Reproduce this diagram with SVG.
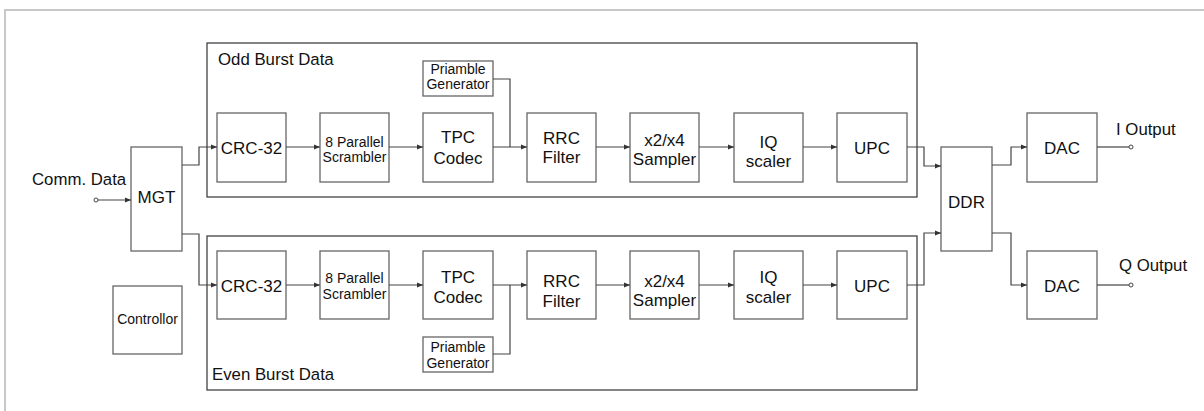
<svg xmlns="http://www.w3.org/2000/svg" width="1204" height="411" viewBox="0 0 1204 411">
<style>
text{font-family:"Liberation Sans",Arial,sans-serif;fill:#111;}
.blk{fill:#fff;stroke:#666;stroke-width:1.3;}
.grp{fill:none;stroke:#333;stroke-width:1.2;}
.big{font-size:17px;text-anchor:middle;}
.sm{font-size:14px;text-anchor:middle;}
.xs{font-size:14px;text-anchor:middle;}
.lbl{font-size:16.8px;}
.ln{fill:none;stroke:#444;stroke-width:1.2;}
.ar{fill:none;stroke:#444;stroke-width:1.2;marker-end:url(#ah);}
.pin{fill:#fff;stroke:#444;stroke-width:1;}
</style>
<defs>
<marker id="ah" viewBox="0 0 6 6" refX="6" refY="3" markerWidth="6" markerHeight="6" markerUnits="userSpaceOnUse" orient="auto">
<path d="M0,0.5 L6,3 L0,5.5 Z" fill="#333"/>
</marker>
</defs>
<rect width="1204" height="411" fill="#fff"/>
<path d="M5,411 V10 H1204" fill="none" stroke="#c8c8c8" stroke-width="2"/>

<g id="odd-group"><rect class="grp" x="207" y="43" width="710" height="154"/><text class="lbl" x="218" y="65">Odd Burst Data</text></g>
<g id="even-group"><rect class="grp" x="207" y="236" width="710" height="154"/><text class="lbl" x="212" y="380">Even Burst Data</text></g>

<g id="comm-label"><text class="lbl" x="32" y="185">Comm. Data</text></g>
<g id="mgt"><rect class="blk" x="131" y="147" width="51" height="104"/><text class="big" x="156.5" y="203">MGT</text></g>
<g id="controller"><rect class="blk" x="113" y="286" width="69" height="68"/><text class="sm" x="147.5" y="324">Controllor</text></g>

<g id="odd-crc"><rect class="blk" x="217" y="113" width="69" height="69"/><text class="big" x="251.5" y="154">CRC-32</text></g>
<g id="odd-scr"><rect class="blk" x="320" y="113" width="69" height="69"/><text class="sm" x="354.5" y="147">8 Parallel</text><text class="sm" x="354.5" y="162">Scrambler</text></g>
<g id="odd-tpc"><rect class="blk" x="423" y="113" width="70" height="69"/><text class="big" x="458" y="143">TPC</text><text class="big" x="458" y="164">Codec</text></g>
<g id="odd-pre"><rect class="blk" x="423" y="61" width="70" height="35"/><text class="xs" x="458" y="74">Priamble</text><text class="xs" x="458" y="89">Generator</text></g>
<g id="odd-rrc"><rect class="blk" x="527" y="113" width="69" height="69"/><text class="big" x="561.5" y="144">RRC</text><text class="big" x="561.5" y="163">Filter</text></g>
<g id="odd-smp"><rect class="blk" x="630" y="113" width="69" height="69"/><text class="big" x="664.5" y="146">x2/x4</text><text class="big" x="664.5" y="165">Sampler</text></g>
<g id="odd-iq"><rect class="blk" x="734" y="113" width="69" height="69"/><text class="big" x="768.5" y="148">IQ</text><text class="big" x="768.5" y="167">scaler</text></g>
<g id="odd-upc"><rect class="blk" x="837" y="113" width="70" height="69"/><text class="big" x="872" y="154">UPC</text></g>

<g id="even-crc"><rect class="blk" x="217" y="251" width="69" height="68"/><text class="big" x="251.5" y="292">CRC-32</text></g>
<g id="even-scr"><rect class="blk" x="320" y="251" width="69" height="68"/><text class="sm" x="354.5" y="283">8 Parallel</text><text class="sm" x="354.5" y="299">Scrambler</text></g>
<g id="even-tpc"><rect class="blk" x="423" y="251" width="70" height="68"/><text class="big" x="458" y="283">TPC</text><text class="big" x="458" y="303">Codec</text></g>
<g id="even-pre"><rect class="blk" x="423" y="337" width="70" height="35"/><text class="xs" x="458" y="352">Priamble</text><text class="xs" x="458" y="368">Generator</text></g>
<g id="even-rrc"><rect class="blk" x="527" y="251" width="69" height="68"/><text class="big" x="561.5" y="287">RRC</text><text class="big" x="561.5" y="307">Filter</text></g>
<g id="even-smp"><rect class="blk" x="630" y="251" width="69" height="68"/><text class="big" x="664.5" y="287">x2/x4</text><text class="big" x="664.5" y="306">Sampler</text></g>
<g id="even-iq"><rect class="blk" x="734" y="251" width="69" height="68"/><text class="big" x="768.5" y="283">IQ</text><text class="big" x="768.5" y="303">scaler</text></g>
<g id="even-upc"><rect class="blk" x="837" y="251" width="70" height="68"/><text class="big" x="872" y="292">UPC</text></g>

<g id="ddr"><rect class="blk" x="941" y="147" width="51" height="104"/><text class="big" x="966.5" y="208">DDR</text></g>
<g id="dac-i"><rect class="blk" x="1027" y="113" width="70" height="69"/><text class="big" x="1062" y="154">DAC</text></g>
<g id="dac-q"><rect class="blk" x="1027" y="251" width="70" height="68"/><text class="big" x="1062" y="292">DAC</text></g>
<g id="out-labels"><text class="lbl" x="1116" y="135">I Output</text><text class="lbl" x="1119" y="271">Q Output</text></g>

<g id="connectors">
<path class="ar" d="M97.5,200 H131"/>
<path class="ar" d="M182,165 H199 V147 H217"/>
<path class="ar" d="M182,234 H199 V285 H217"/>
<path class="ar" d="M286,147 H320"/>
<path class="ar" d="M389,147 H423"/>
<path class="ar" d="M493,147 H527"/>
<path class="ln" d="M493,79 H510 V147"/>
<path class="ar" d="M596,147 H630"/>
<path class="ar" d="M699,147 H734"/>
<path class="ar" d="M803,147 H837"/>
<path class="ar" d="M286,285 H320"/>
<path class="ar" d="M389,285 H423"/>
<path class="ar" d="M493,285 H527"/>
<path class="ln" d="M493,354 H510 V285"/>
<path class="ar" d="M596,285 H630"/>
<path class="ar" d="M699,285 H734"/>
<path class="ar" d="M803,285 H837"/>
<path class="ar" d="M907,147 H924 V166 H941"/>
<path class="ar" d="M907,285 H924 V233 H941"/>
<path class="ar" d="M992,165 H1011 V147 H1027"/>
<path class="ar" d="M992,233 H1011 V285 H1027"/>
<path class="ln" d="M1097,147 H1129"/>
<path class="ln" d="M1097,285 H1129"/>
<circle class="pin" cx="96" cy="200" r="2"/>
<circle class="pin" cx="1131" cy="147" r="2"/>
<circle class="pin" cx="1131" cy="285" r="2"/>
</g>
</svg>
